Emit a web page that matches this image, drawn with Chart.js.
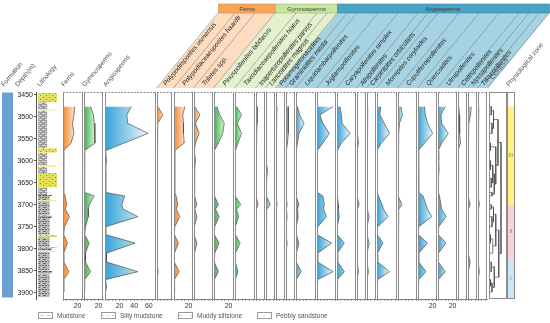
<!DOCTYPE html>
<html>
<head>
<meta charset="utf-8">
<title>Pollen diagram - Lower member of Wenchang Formation</title>
<script src="https://cdn.jsdelivr.net/npm/chart.js@4.4.1/dist/chart.umd.min.js"></script>
<style>
  body { margin: 0; background: #fff; }
  #wrap { position: relative; width: 550px; height: 323px; overflow: hidden; font-family: "Liberation Sans", Arial, sans-serif; }
  #wrap canvas, #wrap svg { position: absolute; }
  #formationName { position: absolute; left: 7.5px; top: 196px; transform: translate(-50%, -50%) rotate(-90deg); font-size: 6.5px; color: #2b3a4c; white-space: nowrap; }
  .legItem { position: absolute; top: 312px; font-size: 6.5px; color: #555; white-space: nowrap; line-height: 8px; }
  .legItem .sym { display: inline-block; width: 15px; height: 7px; border: 1px solid #9a9a9a; box-sizing: border-box; vertical-align: top; margin-right: 4px; font-size: 5px; line-height: 5px; text-align: center; color: #777; letter-spacing: 1px; }
</style>
</head>
<body>
<div id="wrap">
  <div id="formationName"></div>
</div>
<script>
// depth axis (m)
const depthMin = 3444;
const depthMax = 3914;
const depthTicks = [3450, 3500, 3550, 3600, 3650, 3700, 3750, 3800, 3850, 3900];

// sample depths (m)
const sampleDepths = [3477, 3496, 3515, 3538, 3560, 3577, 3600, 3620, 3640, 3660, 3672, 3680, 3700, 3710, 3727, 3750, 3768, 3787, 3810, 3830, 3852, 3870, 3885, 3898];

// pollen sums (%)
const fernsSum = [16, 15, 13, 15, 11, 1, 1, 0.5, 1, 1, 1, 3, 5, 3, 9, 2, 1, 6, 1, 1, 8, 1, 1, 1];
const gymnoSum = [9, 13, 14, 15, 15, 1, 1, 1, 0.5, 0.5, 1, 14, 7, 6, 6, 2, 1, 7, 2, 2, 9, 1, 1, 0.5];
const angioSum = [36, 30, 31, 59, 26, 1, 2, 1, 1, 1, 1, 27, 23, 25, 45, 1, 1, 41, 2, 2, 45, 1, 2, 1];

// ferns (%)
const usmensis = [1, 8, 1, 0, 0, 0, 0, 0, 0, 0, 0, 0, 0, 0, 0, 0, 0, 0, 0, 0, 1.5, 0, 0, 0];
const haardti = [15, 12, 13, 13, 14, 1, 1, 1, 1, 1, 1, 3, 5, 3, 8, 1, 0.5, 6, 0.5, 0.5, 7, 0.5, 1, 0.5];
const triletes = [1, 8, 2, 7, 2, 0.5, 2, 1, 1, 0.5, 0.5, 1, 4, 1, 4, 0.5, 0, 4, 0.5, 0, 1, 0, 0, 0];

// gymnosperms (%)
const pinus = [4, 8, 14, 12, 6, 0.5, 0.5, 1, 0.5, 0.5, 0.5, 1, 6, 2, 7, 1, 0.5, 7, 1, 0.5, 6, 0.5, 0, 0];
const taxodium = [2, 9, 3, 9, 4, 0.5, 0, 0.5, 0, 0, 0.5, 1, 8, 2, 5, 0.5, 0.5, 7, 0.5, 0.5, 4, 0.5, 0, 0];
const inaperturo = [1.5, 1.5, 1.5, 1, 1, 0, 0, 0, 0, 0, 0, 0.5, 3, 0.5, 0.5, 0, 0, 0.5, 0, 0, 0.5, 0, 0, 0];
const laricoidites = [0, 0, 0, 0, 0, 0, 0.5, 2, 1, 0, 0, 1, 6, 1, 0, 0, 0, 0, 0, 0, 0, 0, 0, 0];

// angiosperms (%)
const potamogeton = [1.5, 1, 0.5, 0, 0, 0, 0, 0, 0, 0, 0, 0, 1.5, 0, 0, 0, 0, 1, 0, 0, 0, 0, 0, 0];
const graminidites = [3, 3, 3.5, 3, 2, 0.5, 0, 0, 0, 0, 0, 0, 1.5, 0.5, 1.5, 0, 0, 1.5, 0, 0, 0.5, 0, 0, 0];
const liquidambar = [2, 5, 11, 4, 2, 0.5, 0, 0.5, 0, 0, 0, 1, 4, 2, 3, 0.5, 0.5, 4, 0.5, 0.5, 7, 0.5, 0, 0];
const juglans = [22, 4, 8, 17, 8, 0.5, 0.5, 1, 0.5, 0.5, 0.5, 8, 10, 9, 13, 1, 0.5, 20, 1, 1, 22, 1, 0.5, 0.5];
const carya = [4, 6, 7, 18, 6, 0.5, 0.5, 1, 0.5, 0, 0, 1, 2, 2, 3, 0.5, 0.5, 10, 0.5, 1, 10, 0.5, 1, 0.5];
const alnus = [0.5, 0.5, 0.5, 1, 2, 0, 0, 0, 0, 0, 0, 0.5, 3, 0.5, 0.5, 0, 0, 1, 0, 0, 2, 0, 0, 0];
const carpinus = [1, 1, 0.5, 0, 0, 0, 0, 0, 0, 0, 0, 0.5, 1, 1, 3, 0, 0, 3, 0, 0, 2, 0, 0, 0];
const momipites = [5, 4, 10, 17, 6, 0, 0.5, 0.5, 0, 0, 0, 2, 7, 9, 15, 1, 0.5, 8, 0.5, 1, 17, 1, 0.5, 0];
const cupuliferoi = [4, 6, 2, 1, 0.5, 0, 0, 0, 0, 0, 0, 1, 5.5, 1, 0.5, 0, 0, 0.5, 0, 0, 0.5, 0, 0, 0];
const quercoidites = [9, 10, 13, 20, 9, 0.5, 1, 1, 1, 1, 1, 7, 11, 13, 19, 1, 0.5, 13, 1, 1, 11, 1, 0.5, 0.5];
const ulmus = [10, 4, 5, 14, 5, 0.5, 1, 1.5, 0.5, 0.5, 0.5, 2, 4, 5, 11, 1, 0.5, 11, 0.5, 0.5, 10, 0.5, 0.5, 0.5];
const celtis = [1, 2, 2, 2.5, 3.5, 0, 0, 0, 0, 0, 0, 0, 1, 0.5, 1, 0, 0, 0.5, 0, 0, 0.5, 0, 0, 0];
const nyssa = [4.5, 3.5, 1, 0.5, 0, 0, 0, 0, 0, 0, 0, 0.5, 3, 0.5, 0.5, 0, 0, 0.5, 0, 3, 0.5, 0, 0, 0];
const tilia = [1, 1, 0.5, 0, 0, 0, 0, 0, 0, 0, 0, 0.5, 2, 0.5, 0, 0, 0, 0.5, 0, 0, 2, 0, 0, 0];

// lithology layers (m)
const lithNames = ['Mudstone', 'Silty mudstone', 'Muddy siltstone', 'Pebbly sandstone'];
const lithTop  = [3446, 3467, 3484, 3486, 3572, 3582, 3611, 3614, 3628, 3661, 3678, 3680, 3690, 3692, 3725, 3730, 3768, 3774, 3796, 3798, 3804, 3806, 3850, 3856];
const lithBase = [3467, 3484, 3486, 3572, 3582, 3611, 3614, 3628, 3661, 3678, 3680, 3690, 3692, 3725, 3730, 3768, 3774, 3796, 3798, 3804, 3806, 3850, 3856, 3910];
const lithType = ['Pebbly sandstone', 'Mudstone', 'Pebbly sandstone', 'Mudstone', 'Pebbly sandstone', 'Mudstone', 'Pebbly sandstone', 'Mudstone', 'Pebbly sandstone', 'Mudstone', 'Muddy siltstone', 'Silty mudstone', 'Pebbly sandstone', 'Silty mudstone', 'Muddy siltstone', 'Silty mudstone', 'Pebbly sandstone', 'Silty mudstone', 'Pebbly sandstone', 'Muddy siltstone', 'Pebbly sandstone', 'Silty mudstone', 'Muddy siltstone', 'Silty mudstone'];

// formation
const formationName = 'Lower member of Wenchang Formation';
const formationTop = 3446;
const formationBase = 3910;

// zones
const zoneNames = ['III', 'II', 'I'];
const zoneTop = [3477, 3701, 3822];
const zoneBase = [3701, 3822, 3914];

// CONISS merges: [child a, child b, total sum of squares]; children >= 24 are earlier merges
const conissMerges = [
  [0, 1, 1.5], [2, 3, 2], [24, 25, 3], [4, 5, 1], [6, 7, 1], [8, 9, 1.5], [28, 29, 2.5], [10, 11, 2],
  [30, 31, 3.5], [27, 32, 4.5], [26, 33, 6], [12, 13, 1.5], [14, 15, 2], [35, 36, 3], [16, 17, 1],
  [18, 38, 2.5], [37, 39, 4.5], [19, 20, 1.5], [21, 22, 1], [42, 23, 2], [41, 43, 3.5], [40, 44, 6.5], [34, 45, 8]
];

// ---------------- layout ----------------
const wrap = document.getElementById('wrap');
const PAD = 8;
const AREA_TOP = 92;
const AREA_H = 207;
const AXIS_H = 12;
const PCT_PX = 0.73;

Chart.defaults.font.family = '"Liberation Sans", Arial, sans-serif';
Chart.defaults.font.size = 7;
Chart.defaults.color = '#333';

const palette = {
  fern: ['#ef8a30', '#fde5cd'],
  gymno: ['#33b548', '#dcf4d8'],
  angio: ['#34a2d6', '#edf8fc']
};

const columns = [
  { label: 'Ferns', values: fernsSum, left: 63, width: 20, fill: 'fern', ticks: [20] },
  { label: 'Gymnosperms', values: gymnoSum, left: 84, width: 19, fill: 'gymno', ticks: [20] },
  { label: 'Angiosperms', values: angioSum, left: 105, width: 51, fill: 'angio', ticks: [20, 40, 60] },
  { label: 'Polypodiisporites usmensis', values: usmensis, left: 157, width: 15, fill: 'fern' },
  { label: 'Polypodiaceaesporites haardti', values: haardti, left: 174, width: 19, fill: 'fern', ticks: [20] },
  { label: 'Triletes spp.', values: triletes, left: 194, width: 19, fill: 'fern' },
  { label: 'Pinuspollenites labdacus', values: pinus, left: 214, width: 20, fill: 'gymno', ticks: [20] },
  { label: 'Taxodiaceaepollenites hiatus', values: taxodium, left: 235, width: 20, fill: 'gymno' },
  { label: 'Inaperturopollenites parvus', values: inaperturo, left: 256, width: 9, fill: 'gymno' },
  { label: 'Laricoidites magnus', values: laricoidites, left: 266, width: 9, fill: 'gymno' },
  { label: 'Potamogetonacidites', values: potamogeton, left: 276, width: 9, fill: 'angio' },
  { label: 'Graminidites media', values: graminidites, left: 286, width: 9, fill: 'angio' },
  { label: 'Liquidambarpollenites', values: liquidambar, left: 296, width: 20, fill: 'angio' },
  { label: 'Juglanspollenites', values: juglans, left: 317, width: 19, fill: 'angio' },
  { label: 'Caryapollenites simplex', values: carya, left: 337, width: 19, fill: 'angio' },
  { label: 'Alnipollenites', values: alnus, left: 357, width: 9, fill: 'angio' },
  { label: 'Carpinipites orbicularis', values: carpinus, left: 367, width: 9, fill: 'angio' },
  { label: 'Momipites coryloides', values: momipites, left: 377, width: 20, fill: 'angio' },
  { label: 'Cupuliferoipollenites', values: cupuliferoi, left: 398, width: 19, fill: 'angio' },
  { label: 'Quercoidites', values: quercoidites, left: 418, width: 19, fill: 'angio', ticks: [20] },
  { label: 'Ulmipollenites', values: ulmus, left: 438, width: 19, fill: 'angio', ticks: [20] },
  { label: 'Celtispollenites', values: celtis, left: 458, width: 9, fill: 'angio' },
  { label: 'Nyssapollenites', values: nyssa, left: 468, width: 9, fill: 'angio' },
  { label: 'Tiliaepollenites', values: tilia, left: 478, width: 9, fill: 'angio' }
];

// frame round each panel
const panelFrame = {
  id: 'panelFrame',
  defaults: { color: '#8c8c8c', box: false, dashedTop: false },
  afterDraw(chart, args, opts) {
    const { ctx, chartArea: a } = chart;
    ctx.save();
    ctx.strokeStyle = opts.color;
    ctx.lineWidth = 1;
    ctx.beginPath();
    ctx.moveTo(a.left + 0.5, a.top);
    ctx.lineTo(a.left + 0.5, a.bottom);
    ctx.moveTo(a.right - 0.5, a.top);
    ctx.lineTo(a.right - 0.5, a.bottom);
    if (opts.box) {
      ctx.moveTo(a.left, a.top + 0.5);
      ctx.lineTo(a.right, a.top + 0.5);
      ctx.moveTo(a.left, a.bottom - 0.5);
      ctx.lineTo(a.right, a.bottom - 0.5);
    }
    ctx.stroke();
    if (opts.dashedTop) {
      ctx.setLineDash([2, 1.2]);
      ctx.beginPath();
      ctx.moveTo(a.left, a.top + 0.5);
      ctx.lineTo(a.right, a.top + 0.5);
      ctx.stroke();
    }
    ctx.restore();
  }
};

// zone names in the middle of each bar
const zoneLabels = {
  id: 'zoneLabels',
  afterDatasetsDraw(chart) {
    const ctx = chart.ctx;
    ctx.save();
    ctx.font = '5px "Liberation Sans", Arial';
    ctx.fillStyle = '#777';
    ctx.textAlign = 'center';
    ctx.textBaseline = 'middle';
    chart.data.datasets.forEach((ds, i) => {
      const bar = chart.getDatasetMeta(i).data[0];
      ctx.fillText(ds.label, bar.x, (bar.y + bar.base) / 2);
    });
    ctx.restore();
  }
};

function makeCanvas(x, y, w, h) {
  const c = document.createElement('canvas');
  c.width = w;
  c.height = h;
  c.style.left = x + 'px';
  c.style.top = y + 'px';
  c.style.width = w + 'px';
  c.style.height = h + 'px';
  wrap.appendChild(c);
  return c;
}

function depthAxis() {
  return { type: 'linear', reverse: true, min: depthMin, max: depthMax, display: false };
}

function fadeFill(context, colors, values) {
  const chart = context.chart;
  if (!chart.chartArea) return colors[0];
  const xs = chart.scales.x;
  const x0 = xs.getPixelForValue(0);
  const x1 = Math.max(xs.getPixelForValue(Math.max(...values)), x0 + 1);
  const g = chart.ctx.createLinearGradient(x0, 0, x1, 0);
  g.addColorStop(0, colors[0]);
  g.addColorStop(1, colors[1]);
  return g;
}

// one chart per pollen column
columns.forEach(col => {
  const canvas = makeCanvas(col.left - PAD, AREA_TOP - PAD, col.width + 2 * PAD, AREA_H + AXIS_H + 2 * PAD);
  const labels = col.ticks || [];
  new Chart(canvas, {
    type: 'line',
    data: {
      datasets: [{
        data: sampleDepths.map((d, i) => ({ x: col.values[i], y: d })),
        fill: 'origin',
        backgroundColor: ctx => fadeFill(ctx, palette[col.fill], col.values),
        borderColor: '#4d4d4d',
        borderWidth: 0.7,
        pointRadius: 0,
        tension: 0
      }]
    },
    options: {
      indexAxis: 'y',
      responsive: false,
      animation: false,
      events: [],
      layout: { padding: PAD },
      plugins: { legend: { display: false }, tooltip: { enabled: false }, panelFrame: { dashedTop: true } },
      scales: {
        x: {
          type: 'linear', min: 0, max: col.width / PCT_PX,
          afterFit: s => { s.height = AXIS_H; },
          grid: { display: true, drawOnChartArea: false, drawTicks: true, tickLength: 2, color: '#808080', lineWidth: 0.8 },
          border: { display: true, color: '#808080', width: 1 },
          ticks: {
            stepSize: 5, includeBounds: false, autoSkip: false, maxRotation: 0, padding: 1,
            callback: v => labels.includes(v) ? String(v) : ''
          }
        },
        y: depthAxis()
      }
    },
    plugins: [panelFrame]
  });
});

// lithology column with the depth axis
function tile(bg, draw) {
  const c = document.createElement('canvas');
  c.width = 6;
  c.height = 4;
  const g = c.getContext('2d');
  g.fillStyle = bg;
  g.fillRect(0, 0, 6, 4);
  draw(g);
  return g.createPattern(c, 'repeat');
}
const lithFill = {
  'Mudstone': tile('#9a9a9a', g => { g.fillStyle = '#dcdcdc'; g.fillRect(0, 1, 4, 1); g.fillRect(3, 3, 3, 1); }),
  'Silty mudstone': tile('#bcbcbc', g => { g.fillStyle = '#686868'; g.fillRect(0, 1, 2, 1); g.fillRect(3, 1, 2, 1); g.fillRect(1, 3, 3, 1); }),
  'Muddy siltstone': tile('#a8a8a8', g => { g.fillStyle = '#555'; g.fillRect(0, 1, 3, 1); g.fillRect(4, 1, 1, 1); g.fillRect(1, 3, 4, 1); }),
  'Pebbly sandstone': tile('#e3df5c', g => { g.fillStyle = '#8f8f3c'; g.fillRect(1, 1, 1, 1); g.fillRect(4, 3, 1, 1); })
};
const lithWidth = { 'Mudstone': 1.9, 'Silty mudstone': 2.4, 'Muddy siltstone': 2.9, 'Pebbly sandstone': 4 };

const lithCanvas = makeCanvas(0, AREA_TOP - PAD, 57 + PAD, AREA_H + 2 * PAD);
new Chart(lithCanvas, {
  type: 'line',
  data: {
    datasets: lithTop.map((t, i) => ({
      label: lithType[i],
      data: [{ x: lithWidth[lithType[i]], y: t }, { x: lithWidth[lithType[i]], y: lithBase[i] }],
      fill: 'origin',
      backgroundColor: lithFill[lithType[i]],
      borderWidth: 0,
      pointRadius: 0
    }))
  },
  options: {
    indexAxis: 'y',
    responsive: false,
    animation: false,
    events: [],
    layout: { padding: { left: 0, right: PAD, top: PAD, bottom: PAD } },
    plugins: { legend: { display: false }, tooltip: { enabled: false } },
    scales: {
      x: { type: 'linear', min: -0.45, max: 4, display: false },
      y: {
        type: 'linear', reverse: true, min: depthMin, max: depthMax,
        afterFit: s => { s.width = 36; },
        afterBuildTicks: s => { s.ticks = depthTicks.map(v => ({ value: v })); },
        grid: { display: true, drawOnChartArea: false, tickLength: 2, color: '#555' },
        border: { display: true, color: '#555' },
        ticks: { padding: 1, autoSkip: false, color: '#222', callback: v => String(v) }
      }
    }
  }
});

// formation bar
const formCanvas = makeCanvas(2 - PAD, AREA_TOP - PAD, 11 + 2 * PAD, AREA_H + 2 * PAD);
new Chart(formCanvas, {
  type: 'bar',
  data: {
    labels: [formationName],
    datasets: [{ data: [[formationTop, formationBase]], backgroundColor: '#6b9fd4', barPercentage: 1, categoryPercentage: 1 }]
  },
  options: {
    responsive: false, animation: false, events: [],
    layout: { padding: PAD },
    plugins: { legend: { display: false }, tooltip: { enabled: false } },
    scales: { x: { display: false }, y: depthAxis() }
  }
});
document.getElementById('formationName').textContent = formationName;

// CONISS dendrogram
function dendrogramPoints() {
  const pos = sampleDepths.slice();
  const hgt = sampleDepths.map(() => 0);
  const pts = [];
  conissMerges.forEach(([a, b, h]) => {
    pts.push({ x: hgt[a], y: pos[a] }, { x: h, y: pos[a] }, { x: h, y: pos[b] }, { x: hgt[b], y: pos[b] }, { x: null, y: null });
    pos.push((pos[a] + pos[b]) / 2);
    hgt.push(h);
  });
  return pts;
}
const conissCanvas = makeCanvas(489 - PAD, AREA_TOP - PAD, 18 + 2 * PAD, AREA_H + 2 * PAD);
new Chart(conissCanvas, {
  type: 'scatter',
  data: { datasets: [{ data: dendrogramPoints(), showLine: true, spanGaps: false, borderColor: '#4a4a4a', borderWidth: 0.7, pointRadius: 0 }] },
  options: {
    responsive: false, animation: false, events: [],
    layout: { padding: PAD },
    plugins: { legend: { display: false }, tooltip: { enabled: false }, panelFrame: { box: true } },
    scales: { x: { type: 'linear', min: 0, max: 12, display: false }, y: depthAxis() }
  },
  plugins: [panelFrame]
});

// palynological zones
const zoneColors = ['#fff27e', '#f7d3d6', '#cde6f7'];
const zoneCanvas = makeCanvas(507 - PAD, AREA_TOP - PAD, 8 + 2 * PAD, AREA_H + 2 * PAD);
new Chart(zoneCanvas, {
  type: 'bar',
  data: {
    labels: ['zone'],
    datasets: zoneNames.map((z, i) => ({
      label: z, data: [[zoneTop[i], zoneBase[i]]], backgroundColor: zoneColors[i],
      grouped: false, barPercentage: 1, categoryPercentage: 1
    }))
  },
  options: {
    responsive: false, animation: false, events: [],
    layout: { padding: PAD },
    plugins: { legend: { display: false }, tooltip: { enabled: false }, panelFrame: { box: true } },
    scales: { x: { display: false }, y: depthAxis() }
  },
  plugins: [panelFrame, zoneLabels]
});

// ---------------- header ----------------
const svgNS = 'http://www.w3.org/2000/svg';
const svg = document.createElementNS(svgNS, 'svg');
svg.setAttribute('width', 550);
svg.setAttribute('height', 92);
svg.style.left = '0px';
svg.style.top = '0px';
wrap.appendChild(svg);
function el(tag, attrs, text) {
  const e = document.createElementNS(svgNS, tag);
  for (const k in attrs) e.setAttribute(k, attrs[k]);
  if (text) e.textContent = text;
  svg.appendChild(e);
  return e;
}

const SLANT = 0.82;
const BAND_TOP = 13;
const BAND_BOTTOM = 88;
const ANGLE = Math.atan(1 / SLANT) * 180 / Math.PI;
const slantX = (xb, y) => xb + (BAND_BOTTOM - y) * SLANT;

const groups = [
  { name: 'Ferns', from: 3, to: 5, box: '#f7a55b', band: '#fddcbf', edge: '#c98a4e' },
  { name: 'Gymnosperms', from: 6, to: 9, box: '#c9e69d', band: '#e3f1cf', edge: '#93b57a' },
  { name: 'Angiosperms', from: 10, to: 23, box: '#49a3c3', band: '#a6d3e3', edge: '#3a84a0' }
];

groups.forEach(g => {
  const xl = columns[g.from].left;
  const xr = columns[g.to].left + columns[g.to].width + 1;
  el('polygon', {
    points: [[slantX(xl, BAND_TOP), BAND_TOP], [slantX(xr, BAND_TOP), BAND_TOP], [xr, BAND_BOTTOM], [xl, BAND_BOTTOM]].map(p => p.join(',')).join(' '),
    fill: g.band
  });
});
columns.slice(3).concat([{ left: 488 }]).forEach(col => {
  const x = col.left - 0.5;
  el('line', { x1: x, y1: BAND_BOTTOM, x2: slantX(x, BAND_TOP), y2: BAND_TOP, stroke: '#707070', 'stroke-width': 0.5 });
});
groups.forEach(g => {
  const xl = slantX(columns[g.from].left, BAND_TOP);
  const xr = slantX(columns[g.to].left + columns[g.to].width + 1, BAND_TOP);
  el('rect', { x: xl, y: 4, width: xr - xl, height: 9, fill: g.box, stroke: g.edge, 'stroke-width': 0.6 });
  el('text', { x: (xl + Math.min(xr, 548)) / 2, y: 10.6, 'font-size': 6, fill: '#3a3a3a', 'text-anchor': 'middle' }, g.name);
});
columns.slice(3).forEach(col => {
  const x = col.left + col.width / 2 + 1.5;
  const y = 86;
  el('text', { x, y, 'font-size': 6.6, 'font-style': 'italic', fill: '#222', transform: `rotate(${-ANGLE} ${x} ${y})` }, col.label);
});

const sideLabels = [
  ['Formation', 4, 87], ['Depth(m)', 18, 87], ['Lithology', 40, 87],
  [columns[0].label, 64, 87], [columns[1].label, 85, 87], [columns[2].label, 106, 87],
  ['CONISS', 493, 80], ['Physiological zone', 509, 87]
];
sideLabels.forEach(([t, x, y]) => {
  el('text', { x, y, 'font-size': 6.6, fill: '#555', transform: `rotate(${-ANGLE} ${x} ${y})` }, t);
});

// ---------------- lithology legend ----------------
const legendLeft = [38, 101, 178, 257];
const legendSymbol = ['\u2013 \u2013', '- - -', '\u2013 \u00b7 \u2013', '\u00b7 \u00b7 \u00b7'];
lithNames.forEach((n, i) => {
  const d = document.createElement('div');
  d.className = 'legItem';
  d.style.left = legendLeft[i] + 'px';
  d.innerHTML = '<span class="sym">' + legendSymbol[i] + '</span>' + n;
  wrap.appendChild(d);
});
</script>
</body>
</html>
